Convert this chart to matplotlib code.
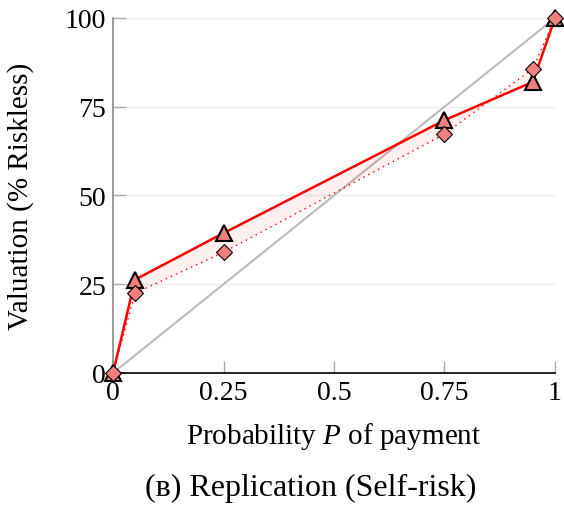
import matplotlib.pyplot as plt
import numpy as np

plt.rcParams['font.family'] = ['Liberation Serif', 'DejaVu Serif']
plt.rcParams['mathtext.fontset'] = 'custom'
plt.rcParams['mathtext.rm'] = 'Liberation Serif'
plt.rcParams['mathtext.it'] = 'Liberation Serif:italic'

# probability of payment
prob = [0, 0.05, 0.25, 0.75, 0.95, 1]
# valuation, % of riskless
model_vals = [0, 26.3, 39.4, 71.2, 82.0, 100]
replication_vals = [0, 22.5, 34.0, 67.3, 85.7, 100]
x_ticks = [0, 0.25, 0.5, 0.75, 1]
x_tick_labels = ['0', '0.25', '0.5', '0.75', '1']
y_ticks = [0, 25, 50, 75, 100]

fig = plt.figure(figsize=(5.64, 5.06), dpi=100)
ax = fig.add_axes([0.2004, 0.2609, 0.7836, 0.7016])

ax.set_xlim(0, 1)
ax.set_ylim(0, 100)

for yt in y_ticks[1:]:
    ax.axhline(yt, color='#eeeeee', lw=1, zorder=0)

ax.plot([0, 1], [0, 100], color='#bbbbbb', lw=1.5, zorder=1)

ax.fill_between(prob, model_vals, replication_vals, color='red', alpha=0.06,
                lw=0, zorder=1)
ax.plot(prob, replication_vals, color='red', lw=1, ls=(0, (1, 3)), zorder=2)
ax.plot(prob, model_vals, color='red', lw=1.8, zorder=3)

ax.plot(prob, model_vals, ls='none', marker='^', ms=12, mfc='#f08080',
        mec='black', mew=1.5, zorder=4, clip_on=False)
ax.plot(prob, replication_vals, ls='none', marker='D', ms=8.5, mfc='#f08080',
        mec='black', mew=0.8, zorder=5, clip_on=False)

ax.set_xticks(x_ticks)
ax.set_xticklabels(x_tick_labels)
ax.set_yticks(y_ticks)
ax.tick_params(direction='in', length=9, width=1, color='#aaaaaa',
               labelsize=20, pad=5)

ax.spines['top'].set_visible(False)
ax.spines['right'].set_visible(False)
ax.spines['left'].set_color('#888888')
ax.spines['bottom'].set_color('black')
ax.spines['left'].set_linewidth(1.2)
ax.spines['bottom'].set_linewidth(1.2)

ax.set_xlabel('Probability $P$ of payment', fontsize=21, labelpad=11)
ax.set_ylabel('Valuation (% Riskless)', fontsize=21, labelpad=22)

fig.text(0.55, 0.02, '(ʙ) Replication (Self-risk)', ha='center',
         fontsize=23)

fig.savefig('out.png', dpi=100)
